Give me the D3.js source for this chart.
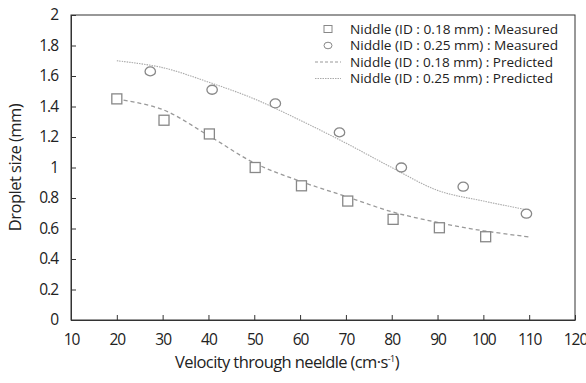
<!DOCTYPE html>
<html>
<head>
<meta charset="utf-8">
<script src="https://cdn.jsdelivr.net/npm/d3@7"></script>
<style>
  body { margin: 0; background: #fff; }
  svg text { font-family: "Open Sans", "Noto Sans", sans-serif; fill: #222; }
</style>
</head>
<body>
<svg id="chart" width="586" height="383"></svg>
<script>
// measured points
let measuredSmallX = [20, 30.3, 40.2, 50.2, 60.3, 70.4, 80.3, 90.4, 100.5]
let measuredSmallY = [1.45, 1.31, 1.22, 1.00, 0.88, 0.78, 0.66, 0.605, 0.546]
let measuredLargeX = [27.3, 40.8, 54.6, 68.6, 82.1, 95.6, 109.4]
let measuredLargeY = [1.63, 1.51, 1.42, 1.23, 1.00, 0.874, 0.697]

// predicted curves
let predictedX = [20, 30, 40, 50, 60, 70, 80, 90, 100, 110]
let predictedSmallY = [1.45, 1.38, 1.21, 1.03, 0.91, 0.81, 0.71, 0.64, 0.585, 0.545]
let predictedLargeY = [1.70, 1.655, 1.56, 1.45, 1.31, 1.16, 1.00, 0.85, 0.78, 0.72]

let xTicks = [10, 20, 30, 40, 50, 60, 70, 80, 90, 100, 110, 120]
let yTicks = [0, 0.2, 0.4, 0.6, 0.8, 1, 1.2, 1.4, 1.6, 1.8, 2]

let legendLabels = [
  "Niddle (ID : 0.18 mm) : Measured",
  "Niddle (ID : 0.25 mm) : Measured",
  "Niddle (ID : 0.18 mm) : Predicted",
  "Niddle (ID : 0.25 mm) : Predicted"
]

const margin = {left: 71, top: 15, right: 11, bottom: 63}
const width = 586 - margin.left - margin.right
const height = 383 - margin.top - margin.bottom

let svg = d3.select("#chart")
let g = svg.append("g").attr("transform", `translate(${margin.left},${margin.top})`)

let x = d3.scaleLinear().domain([10, 120]).range([0, width])
let y = d3.scaleLinear().domain([0, 2]).range([height, 0])

// frame
g.append("rect")
  .attr("width", width).attr("height", height)
  .attr("fill", "none").attr("stroke", "#333").attr("stroke-width", 1)

let xAxis = g.append("g")
  .attr("transform", `translate(0,${height})`)
  .call(d3.axisBottom(x).tickValues(xTicks).tickSizeInner(-5).tickSizeOuter(0).tickPadding(14).tickFormat(d3.format("d")))
let yAxis = g.append("g")
  .call(d3.axisLeft(y).tickValues(yTicks).tickSizeInner(-5).tickSizeOuter(0).tickPadding(13).tickFormat(d => d))

for (let ax of [xAxis, yAxis]) {
  ax.select(".domain").attr("stroke", "#333")
  ax.selectAll(".tick line").attr("stroke", "#333")
  ax.selectAll(".tick text").attr("font-size", 15.5).attr("font-family", "Open Sans").attr("fill", "#222").attr("letter-spacing", -1)
}

// axis titles
let xt = svg.append("text")
  .attr("x", margin.left + width / 2 - 36).attr("y", 368)
  .attr("text-anchor", "middle").attr("font-size", 16.5).attr("letter-spacing", -0.6)
xt.append("tspan").text("Velocity through neeldle (cm·s")
xt.append("tspan").text("-1").attr("font-size", 9).attr("dy", -6)
xt.append("tspan").text(")").attr("dy", 6)

svg.append("text")
  .attr("transform", `translate(21,${margin.top + height / 2}) rotate(-90)`)
  .attr("text-anchor", "middle").attr("font-size", 16.5).attr("letter-spacing", -0.5)
  .text("Droplet size (mm)")

// predicted lines
let lineGen = d3.line().x(d => x(d[0])).y(d => y(d[1])).curve(d3.curveCatmullRom.alpha(0.5))
g.append("path")
  .attr("d", lineGen(predictedX.map((v, i) => [v, predictedSmallY[i]])))
  .attr("fill", "none").attr("stroke", "#999").attr("stroke-width", 1.3).attr("stroke-dasharray", "4,3")
g.append("path")
  .attr("d", lineGen(predictedX.map((v, i) => [v, predictedLargeY[i]])))
  .attr("fill", "none").attr("stroke", "#aaa").attr("stroke-width", 1.1).attr("stroke-dasharray", "1.5,1")

// measured markers
g.selectAll(".sq").data(measuredSmallX.map((v, i) => [v, measuredSmallY[i]]))
  .enter().append("rect").attr("class", "sq")
  .attr("x", d => x(d[0]) - 5).attr("y", d => y(d[1]) - 5)
  .attr("width", 10).attr("height", 10)
  .attr("fill", "#fff").attr("stroke", "#888").attr("stroke-width", 1.3)
g.selectAll(".ci").data(measuredLargeX.map((v, i) => [v, measuredLargeY[i]]))
  .enter().append("ellipse").attr("class", "ci")
  .attr("cx", d => x(d[0])).attr("cy", d => y(d[1]))
  .attr("rx", 5.2).attr("ry", 4.5)
  .attr("fill", "#fff").attr("stroke", "#888").attr("stroke-width", 1.3)

// legend
let legend = svg.append("g")
let ly = [29, 45.5, 62, 78.5]
legend.selectAll("text").data(legendLabels).enter().append("text")
  .attr("x", 350).attr("y", (d, i) => ly[i] + 4.5)
  .attr("font-size", 12.5)
  .attr("textLength", (d, i) => i < 2 ? 208 : 203)
  .attr("lengthAdjust", "spacingAndGlyphs")
  .text(d => d)
legend.append("rect").attr("x", 324).attr("y", ly[0] - 3.5).attr("width", 8).attr("height", 7)
  .attr("fill", "#fff").attr("stroke", "#888").attr("stroke-width", 1)
legend.append("ellipse").attr("cx", 328).attr("cy", ly[1]).attr("rx", 4).attr("ry", 3.3)
  .attr("fill", "#fff").attr("stroke", "#888").attr("stroke-width", 1)
legend.append("line").attr("x1", 315).attr("x2", 341).attr("y1", ly[2]).attr("y2", ly[2])
  .attr("stroke", "#999").attr("stroke-width", 1).attr("stroke-dasharray", "3,2")
legend.append("line").attr("x1", 315).attr("x2", 341).attr("y1", ly[3]).attr("y2", ly[3])
  .attr("stroke", "#aaa").attr("stroke-width", 1).attr("stroke-dasharray", "1.5,1")
</script>
</body>
</html>
